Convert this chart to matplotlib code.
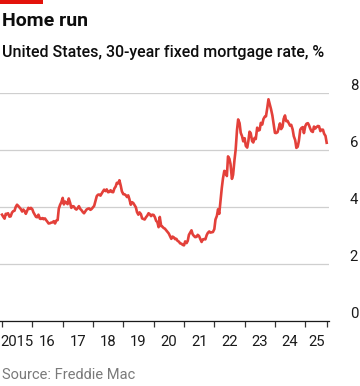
import numpy as np
import pandas as pd
import matplotlib
matplotlib.use('Agg')
import matplotlib.pyplot as plt
from matplotlib.patches import Rectangle

# semi-monthly readings (1st and 15th of each month), %
rate_2015 = [3.73, 3.66, 3.59, 3.76, 3.75, 3.78, 3.66, 3.67, 3.80, 3.85, 3.87, 4.00,
             4.08, 4.04, 3.98, 3.93, 3.84, 3.91, 3.85, 3.76, 3.87, 3.97, 3.93, 3.97]
rate_2016 = [3.92, 3.81, 3.72, 3.65, 3.64, 3.73, 3.59, 3.58, 3.61, 3.57, 3.60, 3.54,
             3.48, 3.42, 3.43, 3.45, 3.46, 3.50, 3.42, 3.52, 3.54, 3.94, 4.08, 4.16]
rate_2017 = [4.32, 4.09, 4.19, 4.15, 4.10, 4.30, 4.14, 3.97, 4.03, 4.02, 3.94, 3.91,
             3.96, 4.03, 3.93, 3.89, 3.82, 3.78, 3.85, 3.91, 3.94, 3.95, 3.90, 3.93]
rate_2018 = [3.99, 4.04, 4.22, 4.38, 4.43, 4.44, 4.40, 4.47, 4.55, 4.61, 4.56, 4.62,
             4.52, 4.53, 4.59, 4.53, 4.52, 4.65, 4.72, 4.85, 4.83, 4.94, 4.75, 4.55]
rate_2019 = [4.45, 4.45, 4.41, 4.35, 4.41, 4.28, 4.08, 4.17, 4.14, 4.07, 3.99, 3.82,
             3.73, 3.81, 3.75, 3.60, 3.58, 3.56, 3.64, 3.69, 3.78, 3.75, 3.68, 3.73]
rate_2020 = [3.72, 3.65, 3.51, 3.47, 3.29, 3.65, 3.33, 3.31, 3.26, 3.24, 3.18, 3.13,
             3.07, 2.98, 2.88, 2.96, 2.93, 2.87, 2.88, 2.81, 2.78, 2.72, 2.71, 2.67]
rate_2021 = [2.65, 2.79, 2.73, 2.81, 3.02, 3.09, 3.18, 3.04, 2.98, 2.94, 2.95, 3.02,
             2.98, 2.88, 2.77, 2.86, 2.87, 2.86, 3.01, 3.09, 3.14, 3.10, 3.11, 3.12]
rate_2022 = [3.22, 3.56, 3.69, 3.92, 3.76, 4.16, 4.67, 5.00, 5.27, 5.25, 5.09, 5.78,
             5.70, 5.51, 4.99, 5.13, 5.66, 6.02, 6.70, 7.08, 6.95, 6.61, 6.49, 6.31]
rate_2023 = [6.42, 6.15, 6.09, 6.32, 6.65, 6.60, 6.32, 6.27, 6.43, 6.39, 6.79, 6.69,
             6.71, 6.96, 6.90, 7.09, 7.18, 7.19, 7.49, 7.79, 7.60, 7.44, 7.22, 6.95]
rate_2024 = [6.61, 6.60, 6.63, 6.77, 6.94, 6.74, 6.82, 7.10, 7.22, 7.02, 7.03, 6.95,
             6.86, 6.89, 6.73, 6.49, 6.35, 6.08, 6.12, 6.32, 6.72, 6.78, 6.81, 6.60]
rate_2025 = [6.85, 6.93, 6.95, 6.87, 6.76, 6.67, 6.64, 6.83, 6.76, 6.81, 6.85, 6.84,
             6.67, 6.72, 6.72, 6.58, 6.50, 6.26]

years = list(range(2015, 2026))
year_labels = ['2015', '16', '17', '18', '19', '20', '21', '22', '23', '24', '25']
y_ticks = [0, 2, 4, 6, 8]

rates = (rate_2015 + rate_2016 + rate_2017 + rate_2018 + rate_2019 + rate_2020
         + rate_2021 + rate_2022 + rate_2023 + rate_2024 + rate_2025)
dates = pd.date_range('2015-01-01', periods=len(rates), freq='SMS')

RED = '#e3403a'
GRID = '#cfcfcf'

plt.rcParams['font.family'] = ['Roboto', 'DejaVu Sans']

W, H = 360, 386
fig = plt.figure(figsize=(W / 100, H / 100), dpi=100)
ax = fig.add_axes([0, 1 - 320.7 / H, 329 / W, (320.7 - 93.3) / H])

ax.plot(dates, rates, color=RED, linewidth=1.9, solid_joinstyle='round', zorder=3)

start = pd.Timestamp('2015-01-01')
end = dates[-1] + pd.Timedelta(days=7)
ax.set_xlim(start - pd.Timedelta(days=24), dates[-1] + pd.Timedelta(days=28))
ax.set_ylim(0, 8)

# year ticks at Jan 1, labels centred in each year
major = [pd.Timestamp(f'{y}-01-01') for y in years] + [end]
ax.set_xticks(major)
ax.set_xticklabels([])
mids = [major[i] + (major[i + 1] - major[i]) / 2 for i in range(len(years))]
ax.set_xticks(mids, minor=True)
ax.set_xticklabels(year_labels, minor=True)
ax.tick_params(axis='x', which='major', length=4, width=0.9, color='#333333', direction='out')
ax.tick_params(axis='x', which='minor', length=0, pad=10, labelsize=10.7, labelcolor='#1a1a1a')

ax.yaxis.tick_right()
ax.set_yticks(y_ticks)
ax.set_yticklabels([str(v) for v in y_ticks])
ax.tick_params(axis='y', length=0, pad=15, labelsize=10.7, labelcolor='#1a1a1a')
for lab in ax.get_yticklabels():
    lab.set_va('bottom')

ax.grid(axis='y', color=GRID, linewidth=0.9)
ax.grid(axis='x', visible=False)
for s in ['top', 'left', 'right']:
    ax.spines[s].set_visible(False)
ax.spines['bottom'].set_color('#1a1a1a')
ax.spines['bottom'].set_linewidth(0.9)
ax.set_facecolor('none')

fig.add_artist(Rectangle((0, 1 - 4 / H), 43 / W, 4 / H, transform=fig.transFigure,
                         color='#e3120b', linewidth=0))
fig.text(2 / W, 1 - 21 / H, 'Home run', fontsize=14, fontweight='bold',
         va='center', ha='left', color='#0d0d0d')
fig.text(2 / W, 1 - 52 / H, 'United States, 30-year fixed mortgage rate, %',
         fontsize=11.5, fontweight='medium', va='center', ha='left', color='#0d0d0d')
fig.text(2 / W, 1 - 375 / H, 'Source: Freddie Mac', fontsize=10.5,
         va='center', ha='left', color='#7a7a7a')

fig.savefig('out.png', dpi=100, facecolor='white')
